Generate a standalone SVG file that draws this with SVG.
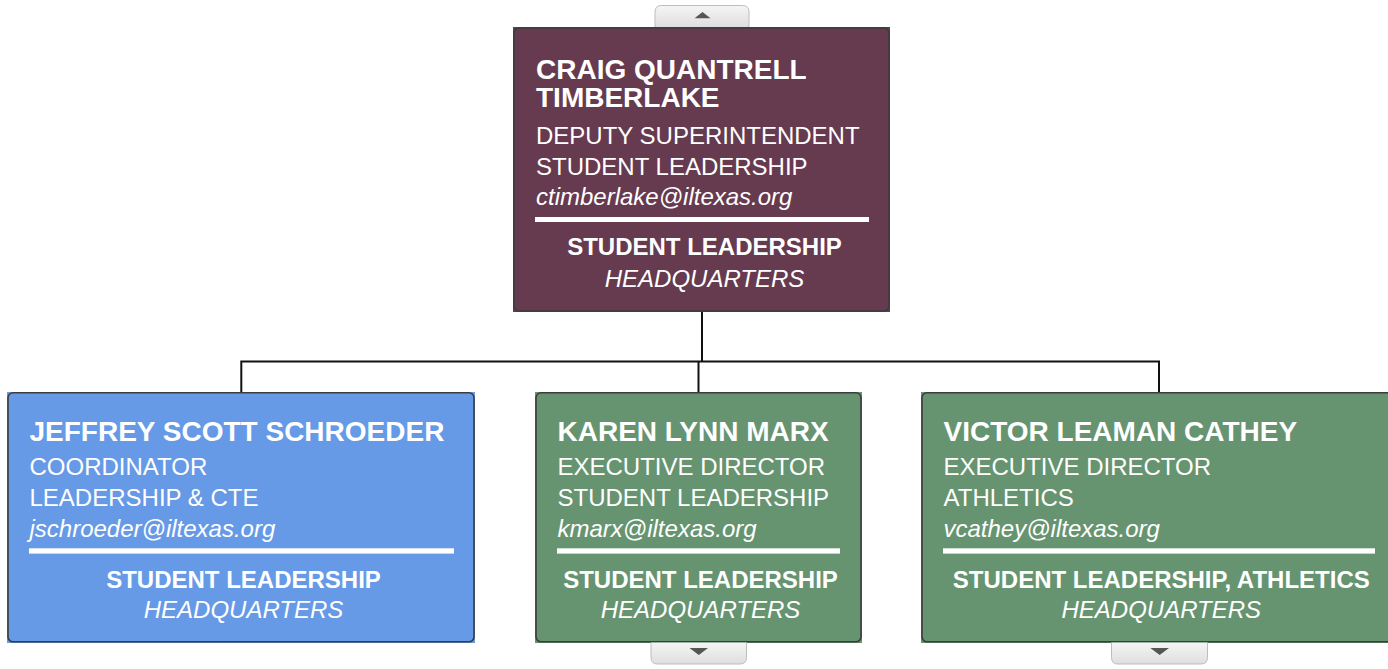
<svg xmlns="http://www.w3.org/2000/svg" width="1388" height="669" viewBox="0 0 1388 669">
<style>
  text { font-family: "Liberation Sans", Arial, sans-serif; fill: #ffffff; }
  .name { font-size: 28px; font-weight: bold; }
  .line { font-size: 24px; }
  .mail { font-size: 24px; font-style: italic; }
  .dept { font-size: 24px; font-weight: bold; text-anchor: middle; }
  .hq { font-size: 24px; font-style: italic; text-anchor: middle; }
  .border { fill: none; stroke: #3c3c3c; stroke-width: 1.6; }
  .rule { fill: #ffffff; }
  .btn { fill: url(#btnGrad); stroke: #bdbdbd; stroke-width: 1; }
  .tri { fill: #555555; }
  .conn { fill: none; stroke: #111111; stroke-width: 2; }
</style>
<defs>
  <linearGradient id="btnGrad" x1="0" y1="0" x2="0" y2="1">
    <stop offset="0" stop-color="#f5f5f5"/>
    <stop offset="1" stop-color="#dedede"/>
  </linearGradient>
</defs>
<rect width="1388" height="669" fill="#ffffff"/>

<g id="connectors">
  <path class="conn" d="M702 312 V361.5"/>
  <path class="conn" d="M241.3 392 V361.5 H1159 V392"/>
  <path class="conn" d="M698.5 361.5 V392"/>
</g>

<g id="node-top">
  <path class="btn" d="M655 27.5 V12 Q655 5.5 661.5 5.5 H742.5 Q749 5.5 749 12 V27.5"/>
  <polygon class="tri" points="694.5,18.3 710.5,18.3 702.5,12"/>
  <rect x="513" y="27" width="377" height="285" fill="#663a4f"/>
  <rect class="border" x="514" y="28" width="375" height="283" rx="5"/>
  <text class="name" x="536" y="78.5">CRAIG QUANTRELL</text>
  <text class="name" x="536" y="107">TIMBERLAKE</text>
  <text class="line" x="536" y="144">DEPUTY SUPERINTENDENT</text>
  <text class="line" x="536" y="175">STUDENT LEADERSHIP</text>
  <text class="mail" x="536" y="204.5">ctimberlake@iltexas.org</text>
  <rect class="rule" x="535" y="217" width="334" height="5"/>
  <text class="dept" x="704.5" y="255">STUDENT LEADERSHIP</text>
  <text class="hq" x="704.5" y="287">HEADQUARTERS</text>
</g>

<g id="node-left">
  <rect x="7" y="392" width="468" height="251" fill="#6699e6"/>
  <rect class="border" x="8" y="392.8" width="466" height="249" rx="5"/>
  <text class="name" x="29.5" y="441">JEFFREY SCOTT SCHROEDER</text>
  <text class="line" x="29.5" y="475">COORDINATOR</text>
  <text class="line" x="29.5" y="506">LEADERSHIP &amp; CTE</text>
  <text class="mail" x="29.5" y="537">jschroeder@iltexas.org</text>
  <rect class="rule" x="29" y="548.3" width="425" height="5.3"/>
  <text class="dept" x="243.5" y="587.5">STUDENT LEADERSHIP</text>
  <text class="hq" x="243.5" y="617.5">HEADQUARTERS</text>
</g>

<g id="node-middle">
  <rect x="535" y="392" width="327" height="251" fill="#669470"/>
  <rect class="border" x="536" y="392.8" width="325" height="249" rx="5"/>
  <text class="name" x="557.5" y="441">KAREN LYNN MARX</text>
  <text class="line" x="557.5" y="475">EXECUTIVE DIRECTOR</text>
  <text class="line" x="557.5" y="506">STUDENT LEADERSHIP</text>
  <text class="mail" x="557.5" y="537">kmarx@iltexas.org</text>
  <rect class="rule" x="557" y="548.3" width="283" height="5.3"/>
  <text class="dept" x="700.5" y="587.5">STUDENT LEADERSHIP</text>
  <text class="hq" x="700.5" y="617.5">HEADQUARTERS</text>
  <path class="btn" d="M651 642.5 V657.5 Q651 664 657.5 664 H740 Q746.5 664 746.5 657.5 V642.5"/>
  <polygon class="tri" points="689.5,648 708,648 698.8,655"/>
</g>

<g id="node-right">
  <rect x="921" y="392" width="476" height="251" fill="#669470"/>
  <rect class="border" x="922" y="392.8" width="474" height="249" rx="5"/>
  <text class="name" x="943.5" y="441">VICTOR LEAMAN CATHEY</text>
  <text class="line" x="943.5" y="475">EXECUTIVE DIRECTOR</text>
  <text class="line" x="943.5" y="506">ATHLETICS</text>
  <text class="mail" x="943.5" y="537">vcathey@iltexas.org</text>
  <rect class="rule" x="943" y="548.3" width="432" height="5.3"/>
  <text class="dept" x="1161.3" y="587.5">STUDENT LEADERSHIP, ATHLETICS</text>
  <text class="hq" x="1161.3" y="617.5">HEADQUARTERS</text>
  <path class="btn" d="M1111.5 642.5 V657.5 Q1111.5 664 1118 664 H1201 Q1207.5 664 1207.5 657.5 V642.5"/>
  <polygon class="tri" points="1150.3,648 1169,648 1159.7,655"/>
</g>
</svg>
